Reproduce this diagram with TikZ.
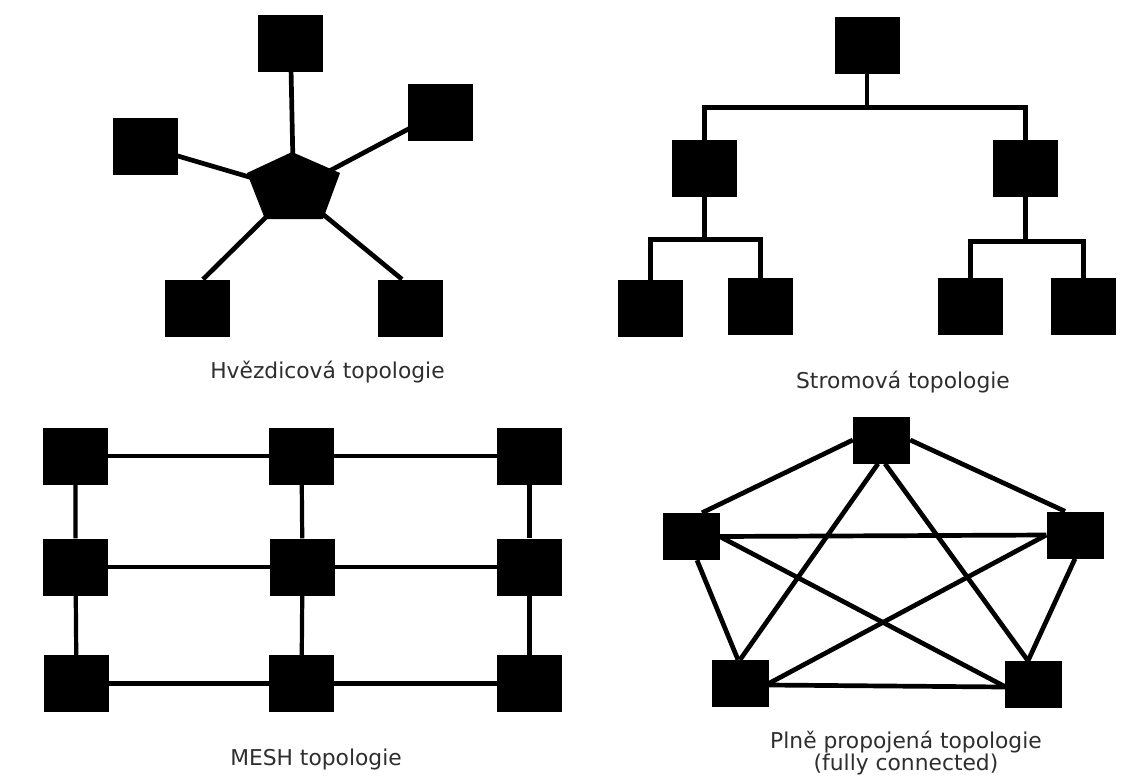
\documentclass[tikz,border=0pt]{standalone}
\usepackage{fontspec}
\newfontfamily\labfont{DejaVu Sans}
\usetikzlibrary{calc}
\pgfdeclarelayer{background}
\pgfdeclarelayer{paper}
\pgfsetlayers{paper,background,main}
\begin{document}
\begin{tikzpicture}[x=1pt,y=-1pt,
  sq/.style={fill=black,draw=none,inner sep=0pt,minimum width=65pt,minimum height=57pt},
  fsq/.style={fill=black,draw=none,inner sep=0pt,minimum width=57pt,minimum height=47pt},
  wire/.style={line width=4.7pt,draw=black},
  mwire/.style={line width=4.2pt,draw=black},
  lab/.style={font=\labfont\fontsize{21.8}{21}\selectfont,text=black!82,inner sep=0pt}]
\begin{pgfonlayer}{paper}
\fill[white] (0,0) rectangle (1148,780);
\end{pgfonlayer}
\path[use as bounding box] (0,0) rectangle (1148,780);

% ---------------- Star topology ----------------
\node[sq] (st)  at (290.5,43.5) {};
\node[sq] (sr)  at (440.5,112) {};
\node[sq] (sl)  at (145.5,146.5) {};
\node[sq] (sbl) at (197.5,308) {};
\node[sq] (sbr) at (410.5,308) {};
\coordinate (hub) at (293.5,190);
\fill[black] (292,152) -- (340,173) -- (323,219) -- (265,219) -- (247,173) -- cycle;
\begin{pgfonlayer}{background}
  \draw[wire] (st.center) -- (hub);
  \draw[wire] (sl.center) -- (hub);
  \draw[wire] (sr.center) -- (hub);
  \draw[wire] ([xshift=5.5pt]sbl.north) -- (hub);
  \draw[wire] ([xshift=-8.5pt]sbr.north) -- (hub);
\end{pgfonlayer}
\node[lab,anchor=base] (slab) at (327.5,378) {Hvězdicová topologie};

% ---------------- Tree topology ----------------
\node[sq] (tt)  at (867,45.5) {};
\node[sq] (t2l) at (704.5,168.5) {};
\node[sq] (t2r) at (1025.5,168.5) {};
\node[sq] (l1)  at (650.5,308) {};
\node[sq] (l2)  at (760.5,306.5) {};
\node[sq] (l3)  at (970.5,306.5) {};
\node[sq] (l4)  at (1083.5,306.5) {};
\coordinate (b1) at ($(tt.south)+(0,33)$);
\coordinate (b2) at ($(t2l.south)+(0,42)$);
\coordinate (b3) at ($(t2r.south)+(0,44)$);
\begin{pgfonlayer}{background}
  \draw[wire] (tt.center) -- (b1);
  \draw[wire] (t2l.center) |- (b1) -| (t2r.center);
  \draw[wire] (t2l.center) -- (b2);
  \draw[wire] (l1.center) |- (b2) -| (l2.center);
  \draw[wire] (t2r.center) -- (b3);
  \draw[wire] (l3.center) |- (b3) -| (l4.center);
\end{pgfonlayer}
\node[lab,anchor=base] (tlab) at (903,388) {Stromová topologie};

% ---------------- Mesh topology ----------------
\node[sq] (m11) at (75.5,456) {};
\node[sq] (m12) at (301.5,456) {};
\node[sq] (m13) at (529.5,456) {};
\node[sq] (m21) at (75.5,567) {};
\node[sq] (m22) at (302.5,567) {};
\node[sq] (m23) at (529.5,567) {};
\node[sq] (m31) at (76.5,683.5) {};
\node[sq] (m32) at (301.5,683.5) {};
\node[sq] (m33) at (529.5,683.5) {};
\begin{pgfonlayer}{background}
  \draw[mwire] (m11) -- (m12) -- (m13);
  \draw[mwire] (m21) -- (m22) -- (m23);
  \draw[mwire] (m31) -- (m32) -- (m33);
  \draw[mwire] (m11) -- (m21) -- (m31);
  \draw[mwire] (m12) -- (m22) -- (m32);
  \draw[mwire] (m13) -- (m23) -- (m33);
\end{pgfonlayer}
\node[lab,anchor=base] (mlab) at (316,765) {MESH topologie};

% ---------------- Fully connected ----------------
\node[fsq] (ft)  at (881.5,440) {};
\node[fsq] (fl)  at (691,536.5) {};
\node[fsq] (fr)  at (1075,535) {};
\node[fsq] (fbl) at (740,683.5) {};
\node[fsq] (fbr) at (1033.5,684.5) {};
\begin{pgfonlayer}{background}
  \draw[wire] (ft.west) -- ([xshift=11pt]fl.north);
  \draw[wire] (ft.east) -- ([xshift=-10pt]fr.north);
  \draw[wire] ([xshift=-3.5pt]ft.south) -- (fbl.north);
  \draw[wire] ([xshift=3.5pt]ft.south) -- ([xshift=-5.5pt]fbr.north);
  \draw[wire] (fl.east) -- (fr.west);
  \draw[wire] (fl.east) -- ([yshift=-2pt]fbr.west);
  \draw[wire] (fr.west) -- (fbl.east);
  \draw[wire] ([xshift=6pt]fl.south) -- ([xshift=-2pt]fbl.north);
  \draw[wire] (fr.south) -- ([xshift=-5.5pt]fbr.north);
  \draw[wire] ([yshift=-1.5pt]fbl.east) -- ([yshift=-2.5pt]fbr.west);
\end{pgfonlayer}
\node[lab,anchor=north,align=center] (flab) at (906,731) {Plně propojená topologie\\(fully connected)};
\end{tikzpicture}
\end{document}
